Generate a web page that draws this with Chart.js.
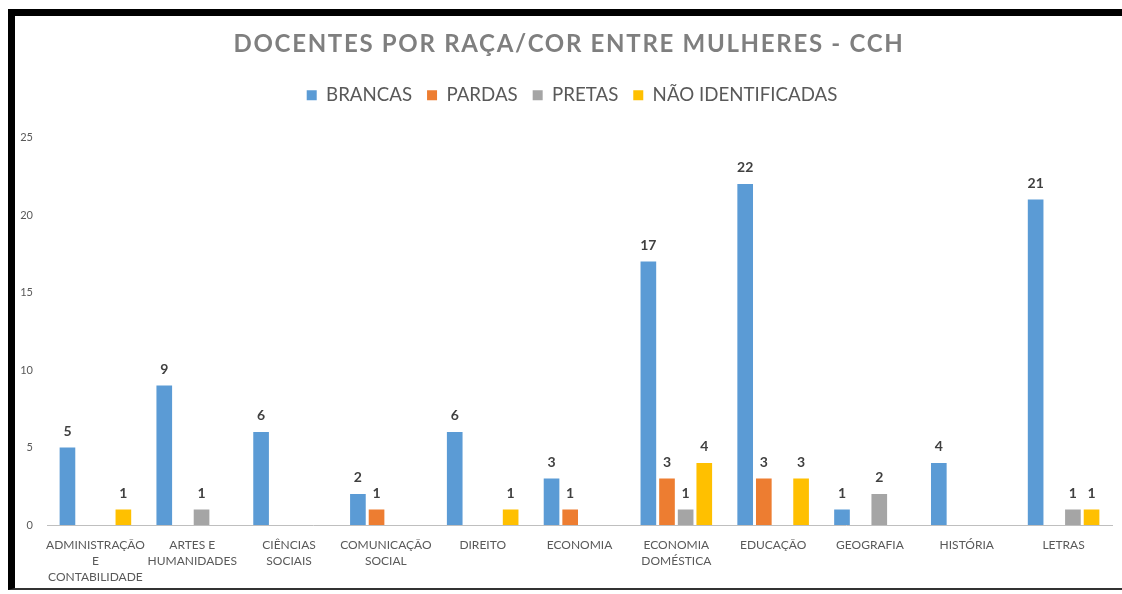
<!DOCTYPE html>
<html>
<head>
<meta charset="utf-8">
<script src="https://cdn.jsdelivr.net/npm/chart.js@4.4.1/dist/chart.umd.min.js"></script>
<style>
  html, body { margin: 0; padding: 0; background: #ffffff; }
  #wrap { position: relative; width: 1122px; height: 594px; overflow: hidden; }
  #frame { position: absolute; left: 8px; top: 9px; width: 1130px; height: 581px;
           border-top: 7px solid #000; border-left: 7px solid #000; border-bottom: 2px solid #333;
           box-sizing: border-box; pointer-events: none; }
  canvas { position: absolute; left: 0; top: 0; }
</style>
</head>
<body>
<div id="wrap">
  <canvas id="c" width="1122" height="594"></canvas>
  <div id="frame"></div>
</div>
<script>
const categories = [
  ["ADMINISTRAÇÃO", "E", "CONTABILIDADE"],
  ["ARTES E", "HUMANIDADES"],
  ["CIÊNCIAS", "SOCIAIS"],
  ["COMUNICAÇÃO", "SOCIAL"],
  "DIREITO",
  "ECONOMIA",
  ["ECONOMIA", "DOMÉSTICA"],
  "EDUCAÇÃO",
  "GEOGRAFIA",
  "HISTÓRIA",
  "LETRAS"
];
const brancas = [5, 9, 6, 2, 6, 3, 17, 22, 1, 4, 21];
const pardas = [0, 0, 0, 1, 0, 1, 3, 3, 0, 0, 0];
const pretas = [0, 1, 0, 0, 0, 0, 1, 0, 2, 0, 1];
const naoIdentificadas = [1, 0, 0, 0, 1, 0, 4, 3, 0, 0, 1];
const seriesNames = ["BRANCAS", "PARDAS", "PRETAS", "NÃO IDENTIFICADAS"];
const yTicks = [0, 5, 10, 15, 20, 25];
const titleText = "DOCENTES POR RAÇA/COR ENTRE MULHERES - CCH";

const valueLabels = {
  id: 'valueLabels',
  afterDatasetsDraw(chart) {
    const ctx = chart.ctx;
    ctx.save();
    ctx.font = 'bold 14px Lato, "Open Sans", sans-serif';
    ctx.fillStyle = '#404040';
    ctx.textAlign = 'center';
    ctx.textBaseline = 'alphabetic';
    chart.data.datasets.forEach((ds, i) => {
      const meta = chart.getDatasetMeta(i);
      meta.data.forEach((bar, j) => {
        const v = ds.data[j];
        if (!v) return;
        ctx.fillText(String(v), bar.x, bar.y - 12);
      });
    });
    ctx.restore();
  }
};

const boxTweaks = {
  id: 'boxTweaks',
  afterInit(chart) {
    const ctx = chart.ctx;
    const lg = chart.legend;
    const origFit = lg.fit.bind(lg);
    lg.fit = function () { origFit(); this.height += 23; };
    const origLegendDraw = lg.draw.bind(lg);
    lg.draw = function () {
      ctx.save();
      ctx.translate(16, 0);
      origLegendDraw();
      ctx.restore();
    };
    const tb = chart.titleBlock;
    const origDraw = tb.draw.bind(tb);
    tb.draw = function () {
      ctx.save();
      ctx.translate(13, 0);
      ctx.letterSpacing = '1.7px';
      origDraw();
      ctx.restore();
    };
  }
};

new Chart(document.getElementById('c'), {
  type: 'bar',
  data: {
    labels: categories,
    datasets: [
      { label: seriesNames[0], data: brancas, backgroundColor: '#5B9BD5' },
      { label: seriesNames[1], data: pardas, backgroundColor: '#ED7D31' },
      { label: seriesNames[2], data: pretas, backgroundColor: '#A5A5A5' },
      { label: seriesNames[3], data: naoIdentificadas, backgroundColor: '#FFC000' }
    ]
  },
  options: {
    responsive: false,
    animation: false,
    layout: { padding: { left: 0, right: 10, top: 0, bottom: 0 } },
    datasets: { bar: { categoryPercentage: 0.77, barPercentage: 0.84 } },
    plugins: {
      title: {
        display: true,
        text: titleText,
        color: '#7F7F7F',
        font: { family: 'Lato, "Open Sans", sans-serif', size: 24, weight: 'bold' },
        padding: { top: 30, bottom: 12 }
      },
      legend: {
        display: true,
        position: 'top',
        labels: {
          color: '#595959',
          font: { family: 'Lato, "Open Sans", sans-serif', size: 18.7 },
          boxWidth: 10,
          boxHeight: 10,
          padding: 15
        }
      },
      tooltip: { enabled: false }
    },
    scales: {
      x: {
        grid: { display: false, drawTicks: false },
        border: { display: true, color: '#BFBFBF', width: 1 },
        ticks: {
          color: '#595959',
          font: { family: 'Lato, "Open Sans", sans-serif', size: 12, lineHeight: 1.33 },
          padding: 12,
          maxRotation: 0,
          autoSkip: false
        },
        afterFit(scale) { scale.height = 69; }
      },
      y: {
        min: 0,
        max: 25,
        grid: { display: false, drawTicks: false },
        border: { display: false },
        afterBuildTicks(scale) { scale.ticks = yTicks.map(v => ({ value: v })); },
        ticks: {
          color: '#595959',
          font: { family: 'Lato, "Open Sans", sans-serif', size: 11 },
          padding: 14
        },
        afterFit(scale) { scale.width = 47; }
      }
    }
  },
  plugins: [boxTweaks, valueLabels]
});
</script>
</body>
</html>
